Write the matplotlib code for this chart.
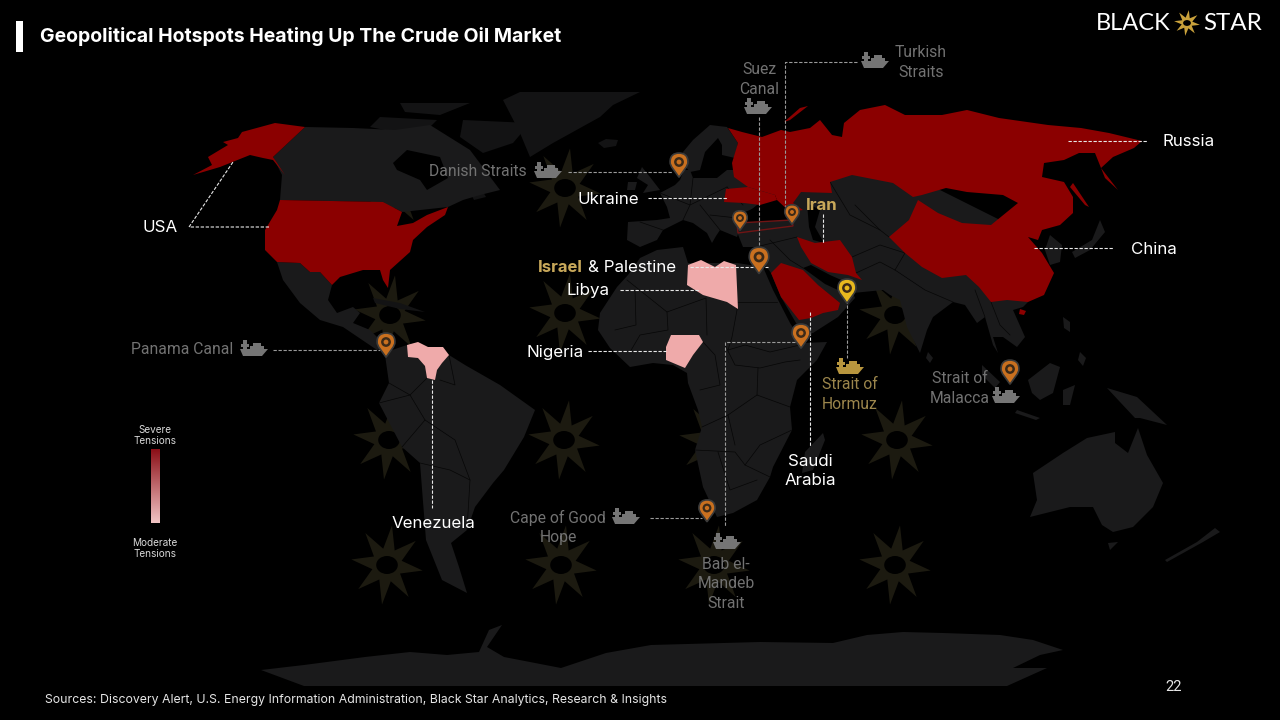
import numpy as np
import matplotlib
matplotlib.use('Agg')
import matplotlib.pyplot as plt
from matplotlib.colors import LinearSegmentedColormap
from matplotlib.patches import Polygon, Circle, Ellipse, PathPatch, Rectangle
from matplotlib.path import Path

BLACK = '#000000'
LAND = '#1a1a1b'
ARCTIC = '#131314'
RED = '#8b0000'
PINK = '#efaaaa'
STAR = '#1c1a10'
ORANGE = '#c9701f'
YELLOW = '#e8b81e'
GREY_TEXT = '#727272'
GOLD = '#c8a85a'
GOLD_DIM = '#9c864c'

# outlines, in picture pixels
canada = [(305, 127), (353, 128), (395, 130), (430, 125), (470, 150), (500, 190), (480, 195), (463, 200), (448, 207),
          (402, 212), (383, 202), (280, 200), (282, 175), (273, 157)]
hudson_bay = [(393, 163), (407, 150), (440, 157), (448, 178), (427, 190), (420, 180), (397, 170)]
baffin = [(463, 120), (530, 123), (513, 143), (483, 153), (460, 137)]
victoria = [(380, 117), (437, 120), (420, 137), (370, 127)]
ellesmere = [(400, 103), (470, 103), (440, 115), (405, 112)]
greenland = [(503, 100), (520, 92), (640, 92), (613, 105), (600, 117), (553, 143), (530, 157), (520, 133)]
iceland = [(598, 143), (606, 139), (618, 140), (616, 146), (604, 148)]
newfoundland = [(470, 192), (482, 190), (486, 197), (474, 200)]
mexico = [(277, 262), (300, 263), (310, 272), (320, 272), (332, 285), (328, 300), (337, 313), (353, 307), (360, 313),
          (353, 323), (370, 330), (387, 347), (377, 350), (343, 327), (320, 320), (300, 303), (283, 280)]
cuba = [(373, 298), (400, 303), (425, 312), (400, 309), (375, 303)]
south_america = [(385, 355), (392, 350), (407, 345), (449, 355), (465, 365), (500, 385), (535, 410), (524, 437),
                 (504, 470), (493, 483), (475, 507), (467, 530), (451, 543), (459, 567), (467, 593), (442, 580),
                 (426, 540), (420, 463), (402, 447), (379, 403), (389, 383)]
africa = [(628, 275), (640, 258), (657, 250), (683, 247), (688, 263), (737, 263), (763, 267), (773, 290), (790, 323),
          (803, 343), (827, 342), (817, 360), (797, 380), (790, 407), (792, 430), (773, 467), (770, 477), (757, 500),
          (733, 513), (717, 517), (703, 487), (695, 450), (702, 427), (698, 410), (688, 383), (687, 373), (673, 365),
          (653, 363), (630, 367), (610, 348), (598, 330), (600, 313), (617, 287)]
madagascar = [(823, 433), (825, 440), (813, 470), (802, 473), (805, 452)]
scandinavia = [(727, 127), (710, 125), (693, 140), (678, 158), (690, 172), (700, 170), (705, 152), (718, 138),
               (722, 145), (722, 155), (735, 158), (738, 143)]
europe = [(727, 170), (717, 178), (693, 178), (690, 170), (684, 170), (680, 180), (675, 185), (660, 193), (667, 207),
          (670, 218), (657, 220), (628, 222), (627, 240), (640, 247), (657, 240), (663, 230), (683, 220), (693, 223),
          (707, 233), (712, 243), (716, 236), (720, 230), (737, 237), (740, 228), (747, 213), (757, 205), (775, 195),
          (760, 170)]
britain = [(642, 167), (650, 177), (660, 190), (643, 193), (648, 185), (637, 178)]
ireland = [(628, 182), (637, 182), (635, 190), (627, 190)]
asia = [(737, 232), (747, 222), (793, 215), (790, 180), (900, 170), (1000, 220), (1020, 280), (1028, 302), (1023, 307),
        (1013, 310), (1025, 337), (1017, 347), (1003, 337), (993, 337), (998, 353), (993, 345), (985, 317), (977, 323),
        (965, 305), (953, 302), (933, 317), (927, 330), (920, 353), (907, 327), (900, 300), (890, 295), (883, 290),
        (853, 293), (855, 298), (838, 317), (813, 333), (803, 335), (781, 297), (771, 273), (763, 262), (761, 247),
        (743, 247)]
black_sea = [(745, 212), (757, 207), (777, 204), (790, 212), (792, 220), (738, 224)]
caspian = [(807, 203), (820, 210), (815, 227), (824, 243), (813, 240), (809, 227)]
gulf = [(803, 268), (811, 265), (830, 275), (848, 283), (840, 291), (825, 284)]
turkey = [(737, 223), (792, 220), (793, 226), (738, 233)]
sri_lanka = [(928, 352), (933, 358), (930, 363), (926, 358)]
sumatra = [(982, 365), (1000, 382), (995, 388), (982, 375)]
borneo = [(1028, 380), (1050, 363), (1060, 367), (1053, 393), (1040, 400), (1032, 393)]
sulawesi = [(1063, 390), (1075, 385), (1070, 405), (1063, 405)]
java = [(1017, 410), (1040, 418), (1036, 420), (1015, 413)]
new_guinea = [(1107, 388), (1137, 397), (1167, 425), (1140, 418), (1135, 418), (1120, 402)]
philippines = [(1063, 317), (1070, 322), (1070, 332), (1064, 328)]
mindanao = [(1080, 352), (1086, 358), (1083, 366), (1078, 360)]
japan = [(1100, 220), (1105, 232), (1090, 250), (1075, 258), (1072, 252), (1092, 240)]
korea = [(1050, 235), (1062, 245), (1060, 262), (1050, 265), (1045, 250)]
australia = [(1033, 473), (1063, 453), (1087, 438), (1115, 432), (1115, 443), (1128, 453), (1138, 428), (1147, 455),
             (1163, 483), (1153, 507), (1133, 527), (1113, 532), (1102, 525), (1093, 507), (1070, 507), (1050, 512),
             (1030, 517), (1037, 500)]
tasmania = [(1108, 543), (1118, 542), (1110, 550)]
new_zealand = [(1215, 528), (1220, 532), (1203, 542), (1167, 562), (1165, 560), (1197, 542)]
antarctica = [(261, 670), (304, 665), (365, 657), (410, 652), (447, 655), (479, 652), (489, 630), (502, 625),
              (487, 647), (504, 657), (561, 668), (606, 653), (651, 645), (760, 642), (833, 643), (867, 635),
              (903, 632), (943, 633), (1000, 635), (1033, 640), (1063, 650), (1040, 655), (1013, 668), (1047, 668),
              (1007, 686), (304, 686)]

russia_china = [(728, 128), (742, 132), (762, 137), (781, 130), (790, 132), (810, 128), (820, 120), (832, 135),
                (842, 137), (844, 123), (860, 110), (885, 105), (905, 115), (942, 115), (967, 110), (999, 118),
                (1048, 125), (1081, 128), (1109, 133), (1142, 141), (1134, 148), (1113, 157), (1101, 168), (1118, 190),
                (1105, 178), (1095, 153), (1079, 153), (1064, 160), (1044, 163), (1042, 177), (1064, 182), (1073, 197),
                (1073, 213), (1060, 225), (1042, 230), (1038, 240), (1028, 237), (1042, 253), (1054, 273), (1044, 295),
                (1028, 302), (1007, 300), (991, 302), (979, 287), (966, 275), (942, 278), (922, 267), (905, 253),
                (889, 237), (909, 220), (918, 200), (938, 213), (962, 223), (991, 225), (1018, 203), (1003, 195),
                (967, 192), (946, 188), (922, 195), (913, 197), (893, 183), (852, 175), (830, 182), (832, 193),
                (801, 192), (793, 203), (803, 210), (790, 212), (777, 200), (775, 195), (748, 187), (734, 177),
                (732, 163), (738, 143)]
novaya_zemlya = [(784, 122), (800, 108), (808, 106), (790, 120)]
ukraine = [(726, 189), (748, 187), (775, 195), (777, 200), (760, 205), (744, 203), (724, 202)]
iran = [(797, 237), (815, 243), (840, 240), (852, 257), (856, 273), (862, 280), (848, 275), (828, 272), (811, 263),
        (801, 247)]
saudi = [(771, 273), (781, 263), (803, 270), (818, 285), (840, 303), (838, 310), (823, 313), (811, 318), (799, 320),
         (781, 297)]
alaska = [(305, 127), (275, 123), (242, 132), (238, 138), (223, 142), (228, 145), (208, 157), (212, 165), (193, 175),
          (220, 167), (250, 155), (263, 158), (273, 160), (285, 175), (277, 163), (273, 157)]
usa = [(280, 200), (383, 202), (402, 212), (397, 226), (413, 223), (427, 215), (448, 207), (445, 215), (427, 227),
       (413, 240), (410, 252), (390, 270), (388, 288), (383, 280), (380, 270), (363, 270), (340, 277), (332, 285),
       (320, 272), (310, 272), (300, 263), (277, 262), (265, 250), (265, 230), (277, 210)]
sakhalin = [(1073, 183), (1089, 207), (1085, 205), (1070, 187)]
hainan = [(1020, 309), (1026, 311), (1024, 315), (1019, 314)]
libya = [(688, 265), (701, 260), (715, 267), (724, 261), (736, 265), (738, 309), (727, 302), (703, 295), (687, 285)]
nigeria = [(671, 335), (699, 335), (703, 342), (693, 355), (685, 368), (666, 360), (666, 347)]
venezuela = [(407, 345), (418, 342), (428, 347), (443, 347), (449, 355), (442, 363), (437, 370), (435, 380), (427, 378),
             (425, 366), (418, 358), (408, 357)]

arctic_shapes = [baffin, victoria, ellesmere, greenland, iceland, newfoundland, cuba]
land_shapes = [canada, mexico, south_america, africa, madagascar, scandinavia, europe, britain, ireland, asia,
               sri_lanka, sumatra, borneo, sulawesi, java, new_guinea, philippines, mindanao, japan, korea, australia,
               tasmania, new_zealand, antarctica]
sea_shapes = [hudson_bay, black_sea, caspian, gulf]
severe_shapes = [russia_china, novaya_zemlya, ukraine, iran, saudi, alaska, usa, sakhalin, hainan]
moderate_shapes = [libya, nigeria, venezuela]

borders = [[(627, 280), (667, 312), (706, 298), (707, 335)], [(635, 290), (636, 325), (615, 330)],
           [(667, 312), (668, 330), (640, 335), (630, 352)], [(737, 302), (737, 310), (732, 337), (728, 350)],
           [(737, 302), (777, 302)], [(728, 350), (745, 345), (770, 352), (800, 345)],
           [(725, 345), (735, 365), (760, 368), (785, 362), (800, 360)], [(703, 342), (715, 355), (720, 385), (700, 390)],
           [(758, 368), (757, 395), (790, 407)], [(702, 427), (728, 415), (757, 395)],
           [(695, 450), (735, 452), (745, 465), (760, 445), (792, 430)], [(718, 452), (730, 490), (757, 480)],
           [(728, 415), (735, 445)], [(745, 465), (770, 477)],
           [(660, 193), (690, 205), (727, 187)], [(693, 178), (690, 205), (683, 220)], [(640, 222), (663, 230)],
           [(700, 205), (720, 230)], [(727, 187), (743, 205)], [(710, 215), (737, 218)],
           [(389, 383), (410, 395), (427, 378)], [(379, 403), (410, 395), (425, 420), (455, 440), (470, 480), (467, 530)],
           [(402, 447), (425, 420)], [(420, 463), (450, 470), (470, 480)], [(449, 355), (455, 385), (440, 380)],
           [(770, 240), (790, 260), (803, 268)], [(855, 205), (880, 230), (889, 237)], [(830, 182), (850, 215), (880, 230)],
           [(797, 237), (760, 246)], [(852, 257), (880, 245), (905, 253)], [(856, 273), (880, 262), (895, 270), (905, 253)],
           [(895, 270), (925, 290), (953, 302)], [(975, 290), (985, 317)], [(991, 302), (1000, 325), (1010, 335)]]

star_centres_x = [392, 565, 390, 565, 895, 389, 564, 715, 897, 387, 561, 714, 895]
star_centres_y = [188, 188, 315, 313, 315, 440, 440, 441, 440, 565, 565, 565, 565]

pin_x = [679, 740, 792, 759, 801, 847, 1010, 707, 386]
pin_y = [162, 218, 212, 257, 333, 288, 369, 508, 342]
pin_scale = [1.05, 0.85, 0.85, 1.15, 1.05, 1.05, 1.05, 0.95, 1.05]
pin_colors = [ORANGE, ORANGE, ORANGE, ORANGE, ORANGE, YELLOW, ORANGE, ORANGE, ORANGE]

ship_x = [875, 758, 548, 254, 850, 1006, 626, 727]
ship_y = [60, 106, 170, 348, 366, 395, 516, 541]
ship_colors = ['#757575', '#757575', '#757575', '#757575', '#b8963e', '#757575', '#757575', '#757575']

white_lines = [[(1068, 141), (1148, 141)], [(1034, 248), (1113, 248)], [(269, 227), (189, 227), (233, 162)],
               [(648, 198), (728, 198)], [(620, 290), (700, 290)], [(588, 351), (666, 351)], [(432, 380), (432, 508)],
               [(810, 312), (810, 447)], [(823, 214), (823, 244)], [(690, 267), (768, 267)]]
grey_lines = [[(759, 117), (759, 245)], [(857, 62), (785, 62), (785, 207)], [(568, 172), (672, 172)],
              [(273, 350), (380, 350)], [(847, 300), (847, 358)], [(650, 518), (702, 518)],
              [(795, 342), (725, 342), (725, 527)]]

white_labels = ['USA', 'Russia', 'China', 'Ukraine', 'Libya', 'Nigeria', 'Venezuela', 'Saudi\nArabia']
white_x = [160, 1189, 1154, 608, 588, 555, 433, 810]
white_y = [227, 141, 249, 199, 290, 352, 523, 471]

grey_labels = ['Turkish\nStraits', 'Suez\nCanal', 'Danish Straits', 'Panama Canal', 'Cape of Good\nHope',
               'Bab el-\nMandeb\nStrait', 'Strait of\nMalacca']
grey_x = [921, 759, 477.5, 182.5, 558, 726, 960]
grey_y = [62.5, 79.5, 171, 349, 527.5, 584, 388.5]

footer = 'Sources: Discovery Alert, U.S. Energy Information Administration, Black Star Analytics, Research & Insights'
title = 'Geopolitical Hotspots Heating Up The Crude Oil Market'


def add_shape(ax, shape, color, zorder):
    ax.add_patch(Polygon(shape, closed=True, facecolor=color, edgecolor='none', zorder=zorder))


def add_star(ax, x, y, radius_x=36, radius_y=40, color=STAR, hole=True, zorder=1):
    angles = np.deg2rad(np.arange(16) * 22.5 + 8)
    radii = np.where(np.arange(16) % 2 == 0, 1.0, 0.42)
    points = np.column_stack([x + radius_x * radii * np.sin(angles), y - radius_y * radii * np.cos(angles)])
    ax.add_patch(Polygon(points, closed=True, facecolor=color, edgecolor='none', zorder=zorder))
    if hole:
        ax.add_patch(Ellipse((x, y), radius_x * 0.6, radius_y * 0.45, facecolor=BLACK, edgecolor='none', zorder=zorder))


def add_pin(ax, x, y, scale, color):
    r = 8.5 * scale
    tip = 14.5 * scale
    verts = [(x, y + tip), (x - r * 0.5, y + r * 0.95), (x - r, y + r * 0.5), (x - r, y),
             (x - r, y - r * 0.75), (x - r * 0.55, y - r), (x, y - r),
             (x + r * 0.55, y - r), (x + r, y - r * 0.75), (x + r, y),
             (x + r, y + r * 0.5), (x + r * 0.5, y + r * 0.95), (x, y + tip), (x, y + tip)]
    codes = [Path.MOVETO] + [Path.CURVE4] * 12 + [Path.CLOSEPOLY]
    ax.add_patch(PathPatch(Path(verts, codes), facecolor=color, edgecolor='#3a3a3a', lw=1.2, zorder=7))
    ax.add_patch(Circle((x, y), r * 0.55, facecolor='#3c2a18', edgecolor='none', zorder=8))
    ax.add_patch(Circle((x, y), r * 0.27, facecolor=color, edgecolor='none', zorder=8))


def add_ship(ax, x, y, color):
    hull = [(x - 14, y + 1), (x + 14, y + 1), (x + 8, y + 8), (x - 11, y + 8)]
    ax.add_patch(Polygon(hull, closed=True, facecolor=color, edgecolor='none', zorder=7))
    ax.add_patch(Rectangle((x - 11, y - 8), 3.5, 10, facecolor=color, edgecolor='none', zorder=7))
    ax.add_patch(Rectangle((x - 13, y - 4), 8, 2.5, facecolor=color, edgecolor='none', zorder=7))
    ax.add_patch(Rectangle((x - 4, y - 2), 14, 3.5, facecolor=color, edgecolor='none', zorder=7))
    ax.add_patch(Rectangle((x - 1, y - 5.5), 8, 3, facecolor=color, edgecolor='none', zorder=7))


fig = plt.figure(figsize=(12.8, 7.2), dpi=100, facecolor=BLACK)
ax = fig.add_axes([0, 0, 1, 1])
ax.set_facecolor(BLACK)

for x, y in zip(star_centres_x, star_centres_y):
    add_star(ax, x, y)
for shape in arctic_shapes:
    add_shape(ax, shape, ARCTIC, 2)
for shape in land_shapes:
    add_shape(ax, shape, LAND, 2)
for shape in sea_shapes:
    add_shape(ax, shape, BLACK, 3)
for line in borders:
    xs, ys = zip(*line)
    ax.plot(xs, ys, color='#060606', lw=0.5, zorder=3)
for shape in severe_shapes:
    add_shape(ax, shape, RED, 4)
for shape in moderate_shapes:
    add_shape(ax, shape, PINK, 4)
ax.add_patch(Polygon(turkey, closed=True, facecolor=LAND, edgecolor='#701414', lw=1, zorder=5))

for line in white_lines:
    xs, ys = zip(*line)
    ax.plot(xs, ys, color='#e8e8e8', lw=0.8, ls=(0, (3, 1.5)), zorder=6)
for line in grey_lines:
    xs, ys = zip(*line)
    ax.plot(xs, ys, color='#9a9a9a', lw=0.8, ls=(0, (3, 1.5)), zorder=6)

for x, y, scale, color in zip(pin_x, pin_y, pin_scale, pin_colors):
    add_pin(ax, x, y, scale, color)
for x, y, color in zip(ship_x, ship_y, ship_colors):
    add_ship(ax, x, y, color)

sans = ['Inter', 'DejaVu Sans']
for label, x, y in zip(white_labels, white_x, white_y):
    ax.text(x, y, label, color='white', fontsize=12.2, family=sans, ha='center', va='center', linespacing=1.29, zorder=9)
for label, x, y in zip(grey_labels, grey_x, grey_y):
    ax.text(x, y, label, color=GREY_TEXT, fontsize=11.3, family='Roboto', ha='center', va='center', linespacing=1.34, zorder=9)
ax.text(850, 394.5, 'Strait of\nHormuz', color=GOLD_DIM, fontsize=11.3, family='Roboto', ha='center', va='center',
        linespacing=1.34, zorder=9)
ax.text(822, 206, 'Iran', color=GOLD, fontsize=12.2, family=sans, weight='bold', ha='center', va='center', zorder=9)
ax.text(538, 267, 'Israel', color=GOLD, fontsize=12, family=sans, weight='bold', ha='left', va='center', zorder=9)
ax.text(588, 267, '& Palestine', color='white', fontsize=12.2, family=sans, ha='left', va='center', zorder=9)

ax.add_patch(Rectangle((16, 21), 7, 31, facecolor='white', edgecolor='none', zorder=9))
ax.text(40, 36, title, color='white', fontsize=14, family=sans, weight='bold', ha='left', va='center', zorder=9)
ax.text(45, 700, footer, color='#e6e6e6', fontsize=8.85, family=sans, ha='left', va='center', zorder=9)
ax.text(1174, 687, '22', color='#e6e6e6', fontsize=10.6, family='Roboto', ha='center', va='center', zorder=9)

# legend bar
legend_cmap = LinearSegmentedColormap.from_list('tension', ['#8b0f17', '#f2c4c4'])
ax.imshow(np.linspace(0, 1, 100).reshape(-1, 1), cmap=legend_cmap, extent=(151.4, 159.6, 523, 449), aspect='auto', zorder=9)
ax.text(155, 435.5, 'Severe\nTensions', color='#d8d8d8', fontsize=7.2, family=sans, ha='center', va='center',
        linespacing=1.15, zorder=9)
ax.text(155, 548.5, 'Moderate\nTensions', color='#d8d8d8', fontsize=7.2, family=sans, ha='center', va='center',
        linespacing=1.15, zorder=9)

# logo
ax.text(1096, 23, 'BLACK', color='white', fontsize=17, family='Lato', ha='left', va='center', zorder=9)
ax.text(1262, 23, 'STAR', color='white', fontsize=17.4, family='Lato', ha='right', va='center', zorder=9)
add_star(ax, 1187, 23, radius_x=13, radius_y=13, color='#c9a13b', hole=True, zorder=9)

ax.set_xlim(0, 1280)
ax.set_ylim(720, 0)
ax.axis('off')

fig.savefig('out.png', dpi=100, facecolor=BLACK)
plt.close(fig)
